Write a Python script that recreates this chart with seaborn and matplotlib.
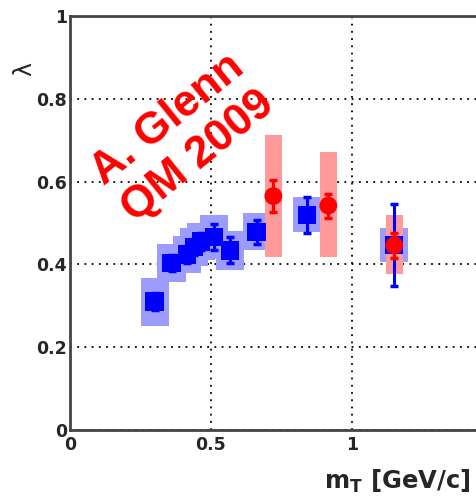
import numpy as np
import pandas as pd
import seaborn as sns
import matplotlib
matplotlib.use("Agg")
import matplotlib.pyplot as plt
from matplotlib.ticker import MultipleLocator

# ---- data ----
blue_x = [0.30, 0.36, 0.415, 0.44, 0.465, 0.51, 0.567, 0.662, 0.84, 1.148]
blue_y = [0.31, 0.403, 0.424, 0.442, 0.455, 0.466, 0.434, 0.479, 0.52, 0.447]
blue_stat = [0.02, 0.02, 0.02, 0.02, 0.02, 0.032, 0.031, 0.029, 0.043, 0.099]
blue_sys = [0.058, 0.046, 0.045, 0.045, 0.045, 0.053, 0.047, 0.045, 0.042, 0.04]

red_x = [0.721, 0.916, 1.150]
red_y = [0.565, 0.542, 0.446]
red_stat = [0.038, 0.029, 0.03]
red_sys_lo = [0.419, 0.419, 0.377]
red_sys_hi = [0.713, 0.671, 0.519]

y_ticks = [0, 0.2, 0.4, 0.6, 0.8, 1]
y_ticklabels = ["0", "0.2", "0.4", "0.6", "0.8", "1"]
x_ticks = [0, 0.5, 1]
x_ticklabels = ["0", "0.5", "1"]

blue_df = pd.DataFrame({"mT": blue_x, "lam": blue_y})
red_df = pd.DataFrame({"mT": red_x, "lam": red_y})

sns.set_style("white")
plt.rcParams["font.family"] = ["DejaVu Sans"]
plt.rcParams["mathtext.fontset"] = "dejavusans"

fig = plt.figure(figsize=(4.77, 5.01), dpi=100)
ax = fig.add_axes([70 / 477, 71 / 501, 407 / 477, 414 / 501])

BLUE = "#0000ff"
LBLUE = "#9c9cff"
RED = "#ff0000"
LRED = "#ff9a9a"

# systematic boxes
ax.bar(blue_x, [2 * s for s in blue_sys], bottom=[y - s for y, s in zip(blue_y, blue_sys)],
       width=0.10, color=LBLUE, edgecolor="none", zorder=2)
ax.bar(red_x, [h - l for h, l in zip(red_sys_hi, red_sys_lo)], bottom=red_sys_lo,
       width=0.06, color=LRED, edgecolor="none", zorder=3)

# statistical error bars
ax.errorbar(blue_x, blue_y, yerr=blue_stat, fmt="none", ecolor=BLUE, elinewidth=2.2,
            capsize=3, capthick=2.5, zorder=4)
sns.scatterplot(data=blue_df, x="mT", y="lam", marker="s", s=175, color=BLUE,
                edgecolor="none", ax=ax, zorder=5, legend=False)
ax.errorbar(red_x, red_y, yerr=red_stat, fmt="none", ecolor=RED, elinewidth=2.2,
            capsize=3, capthick=2.5, zorder=6)
sns.scatterplot(data=red_df, x="mT", y="lam", marker="o", s=165, color=RED,
                edgecolor="none", ax=ax, zorder=7, legend=False)

ax.set_xlim(0, 407 / 282)
ax.set_ylim(0, 1)
ax.set_xticks(x_ticks)
ax.set_xticklabels(x_ticklabels)
ax.set_yticks(y_ticks)
ax.set_yticklabels(y_ticklabels)
ax.xaxis.set_minor_locator(MultipleLocator(0.1))
ax.yaxis.set_minor_locator(MultipleLocator(0.05))
ax.tick_params(which="major", direction="in", length=11, width=1.6, color="#333333",
               labelsize=12.5, top=False, right=False)
ax.tick_params(which="minor", direction="in", length=5.5, width=1.4, color="#333333",
               top=False, right=False)
ax.tick_params(axis="y", which="major", pad=2)
ax.tick_params(axis="x", which="major", pad=4)
for lab in ax.get_xticklabels() + ax.get_yticklabels():
    lab.set_fontweight("bold")

ax.grid(True, which="major", color="black", linestyle=(0, (1, 3)), linewidth=1.3, zorder=1)
ax.set_axisbelow(True)

for side in ["left", "bottom", "top"]:
    ax.spines[side].set_color("#444444")
    ax.spines[side].set_linewidth(2)
ax.spines["right"].set_visible(False)

ax.set_xlabel("")
ax.set_ylabel("")
fig.text(471 / 477, 1 - 481 / 501, r"m$_\mathbf{T}$ [GeV/c]", ha="right", va="center",
         fontsize=17.5, fontweight="bold")
fig.text(24 / 477, 1 - 69 / 501, "λ", rotation=90, ha="center", va="center", fontsize=17)

ax.text(0.40, 0.705, "A. Glenn\nQM 2009", color=RED, fontsize=32, fontweight="bold",
        family=["Liberation Sans", "DejaVu Sans"],
        rotation=39, ha="center", va="center", multialignment="center",
        linespacing=1.22, zorder=8, rotation_mode="anchor")

fig.savefig("out.png", dpi=100)
